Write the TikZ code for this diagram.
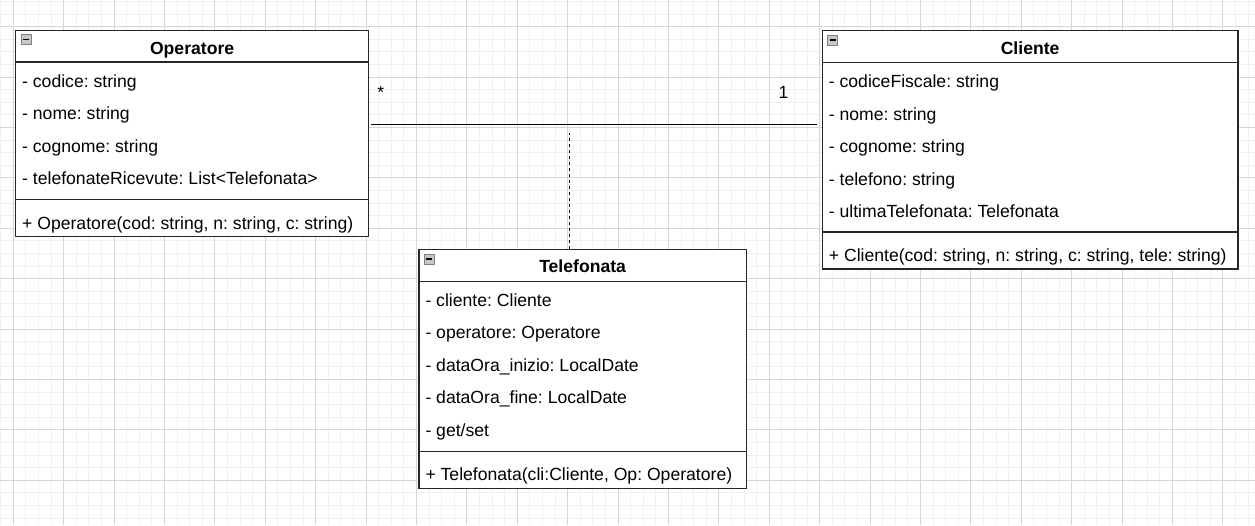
\documentclass[tikz,border=0pt]{standalone}
\usepackage{fontspec}
\setmainfont{Liberation Sans}
\usetikzlibrary{calc}
\frenchspacing

\newcommand\umlsize{\fontsize{17.6pt}{21pt}\selectfont}

\tikzset{
  minorgrid/.style={line width=1pt, black!6},
  majorgrid/.style={line width=1pt, black!16},
  classbox/.style={draw=black!85, fill=white, line width=1.2pt, anchor=north west, inner sep=0pt},
  boxline/.style={draw=black!85, line width=1.2pt},
  classname/.style={anchor=base, inner sep=0pt, font=\umlsize\bfseries},
  member/.style={anchor=base west, inner sep=0pt, font=\umlsize},
  foldicon/.style={draw=black!50, fill=black!22, minimum size=10pt, inner sep=0pt, line width=0.8pt,
    path picture={\draw[black, line width=1.4pt] ([xshift=2pt]path picture bounding box.west) -- ([xshift=-2pt]path picture bounding box.east);}},
  assoc/.style={line width=1.2pt, black},
  dep/.style={line width=1.3pt, black, dash pattern=on 3pt off 3pt},
}

\begin{document}
\begin{tikzpicture}[x=1pt, y=-1pt]
\useasboundingbox (0,0) rectangle (1255,525);
\begin{scope}
\clip (0,0) rectangle (1255,525);
\foreach \i in {0,...,100} \draw[minorgrid] ({0.7+12.6*\i},0) -- ++(0,525);
\foreach \i in {0,...,42} \draw[minorgrid] (0,{1.5+12.6*\i}) -- ++(1255,0);
\foreach \i in {0,...,24} \draw[majorgrid] ({13.3+50.4*\i},0) -- ++(0,525);
\foreach \i in {0,...,9} \draw[majorgrid] (0,{26.7+50.4*\i}) -- ++(1255,0);
\end{scope}

% Operatore
\node[classbox, minimum width=353pt, minimum height=206.5pt] (op) at (15,29.5) {};
\draw[boxline] ([yshift=-32.5pt]op.north west) -- ([yshift=-32.5pt]op.north east);
\draw[boxline] ([yshift=37.5pt]op.south west) -- ([yshift=37.5pt]op.south east);
\node[foldicon] (op-fold) at ([xshift=11pt,yshift=-10pt]op.north west) {};
\node[classname] (op-name) at ([yshift=-24.5pt]op.north) {Operatore};
\foreach \m [count=\i] in {{- codice: string}, {- nome: string}, {- cognome: string}, {- telefonateRicevute: List<Telefonata>}}
  \node[member] (op-a\i) at ([xshift=7pt,yshift={-57.5pt-32.6pt*(\i-1)}]op.north west) {\m};
\node[member] (op-m1) at ([xshift=7pt,yshift=8pt]op.south west) {+ Operatore(cod: string, n: string, c: string)};

% Cliente
\node[classbox, minimum width=415.6pt, minimum height=238.3pt] (cl) at (821.7,30) {};
\draw[boxline] ([yshift=-32.5pt]cl.north west) -- ([yshift=-32.5pt]cl.north east);
\draw[boxline] ([yshift=37.5pt]cl.south west) -- ([yshift=37.5pt]cl.south east);
\node[foldicon] (cl-fold) at ([xshift=11pt,yshift=-10pt]cl.north west) {};
\node[classname] (cl-name) at ([yshift=-24pt]cl.north) {Cliente};
\foreach \m [count=\i] in {{- codiceFiscale: string}, {- nome: string}, {- cognome: string}, {- telefono: string}, {- ultimaTelefonata: Telefonata}}
  \node[member] (cl-a\i) at ([xshift=7pt,yshift={-57.5pt-32.6pt*(\i-1)}]cl.north west) {\m};
\node[member] (cl-m1) at ([xshift=7pt,yshift=8pt]cl.south west) {+ Cliente(cod: string, n: string, c: string, tele: string)};

% Telefonata
\node[classbox, minimum width=327.4pt, minimum height=238.7pt] (tel) at (418.3,249) {};
\draw[boxline] ([yshift=-32.5pt]tel.north west) -- ([yshift=-32.5pt]tel.north east);
\draw[boxline] ([yshift=37.5pt]tel.south west) -- ([yshift=37.5pt]tel.south east);
\node[foldicon] (tel-fold) at ([xshift=11pt,yshift=-10pt]tel.north west) {};
\node[classname] (tel-name) at ([yshift=-23.5pt]tel.north) {Telefonata};
\foreach \m [count=\i] in {{- cliente: Cliente}, {- operatore: Operatore}, {- dataOra\_inizio: LocalDate}, {- dataOra\_fine: LocalDate}, {- get/set}}
  \node[member] (tel-a\i) at ([xshift=7pt,yshift={-57pt-32.6pt*(\i-1)}]tel.north west) {\m};
\node[member] (tel-m1) at ([xshift=7pt,yshift=8.5pt]tel.south west) {+ Telefonata(cli:Cliente, Op: Operatore)};

% association
\coordinate (link) at (569.3,124.5);
\draw[assoc, shorten <=2pt, shorten >=5pt] (link -| op.east) -- (link -| cl.west);
\node[member, anchor=base] (mult-op) at (380.7,98) {*};
\node[member, anchor=base] (mult-cl) at (783.5,98.3) {1};
\coordinate (dep-end) at (569.3,133);
\draw[dep] (dep-end |- tel.north) -- (dep-end);
\end{tikzpicture}
\end{document}
